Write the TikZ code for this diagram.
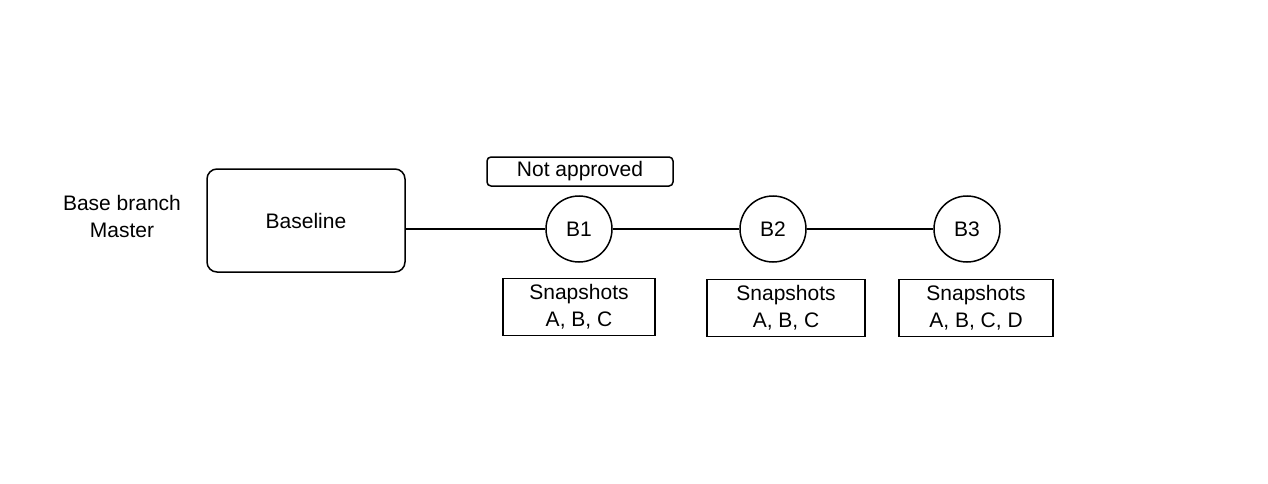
\documentclass[tikz,border=0pt]{standalone}
\usepackage{fontspec}
\setmainfont{Liberation Sans}
\begin{document}
\begin{tikzpicture}[x=1pt,y=-1pt,line width=1.5pt,
  every node/.style={font=\fontsize{21}{27}\selectfont,align=center},
  rbox/.style={draw,rounded corners=10pt,minimum width=198pt,minimum height=103pt},
  tag/.style={draw,rounded corners=4pt,minimum width=186pt,minimum height=29pt,inner sep=0pt},
  br/.style={draw,circle,minimum size=66pt,inner sep=0pt},
  snap/.style={draw,minimum height=57pt,inner sep=0pt}]
\useasboundingbox (0,0) rectangle (1268,484);
\node (lbl) at (122,216) {Base branch\\Master};
\node[rbox] (base) at (306,220.5) {Baseline};
\node[tag] (na) at (580,171.5) {Not approved};
\node[br] (b1) at (579,229) {B1};
\node[br] (b2) at (773,229) {B2};
\node[br] (b3) at (967,229) {B3};
\node[snap,minimum width=152pt] (s1) at (579,307) {Snapshots\\A, B, C};
\node[snap,minimum width=158pt] (s2) at (786,308) {Snapshots\\A, B, C};
\node[snap,minimum width=154pt] (s3) at (976,308) {Snapshots\\A, B, C, D};
\draw (base.east |- b1) -- (b1);
\draw (b1) -- (b2);
\draw (b2) -- (b3);
\end{tikzpicture}
\end{document}
